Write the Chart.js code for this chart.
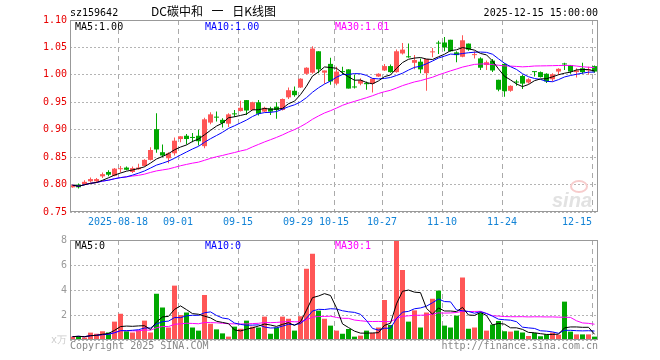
<!DOCTYPE html>
<html>
<head>
<meta charset="utf-8">
<script src="https://cdn.jsdelivr.net/npm/chart.js@4.4.0/dist/chart.umd.min.js"></script>
<style>
  body { margin: 0; background: #fff; }
  #wrap { position: relative; width: 660px; height: 360px; overflow: hidden;
          font-family: 'DejaVu Sans Mono', monospace; font-size: 10px; }
  canvas { position: absolute; left: 0; }
  .t { position: absolute; white-space: nowrap; line-height: 12px; }
</style>
</head>
<body>
<div id="wrap">
  <canvas id="kline" width="660" height="230" style="top:0;width:660px;height:230px"></canvas>
  <canvas id="vol" width="660" height="130" style="top:230px;width:660px;height:130px"></canvas>
  <div class="t" style="left:70px;top:7px;">sz159642</div>
  <div class="t" style="left:151px;top:5px;font-family:'Noto Sans CJK SC';font-size:12px;word-spacing:6px;">DC碳中和 一 日K线图</div>
  <div class="t" style="right:62px;top:7px;">2025-12-15 15:00:00</div>
  <div class="t" style="left:552px;top:189px;font:italic bold 20px 'Liberation Sans';color:#e2e2e2;">sina</div>
  <div class="t" style="left:570px;top:180px;width:14px;height:9px;border:2px solid #f7cccc;border-radius:50%;"></div>
  <div class="t" style="left:70px;top:340px;color:#888;">Copyright 2025 SINA.COM</div>
  <div class="t" style="right:62px;top:340px;color:#888;">http://finance.sina.com.cn</div>
</div>
<script>
// daily candles, 2025-08-06 .. 2025-12-15
const open = [0.795,0.800,0.801,0.806,0.806,0.815,0.823,0.816,0.828,0.831,
  0.823,0.828,0.834,0.845,0.901,0.859,0.848,0.857,0.883,0.889,
  0.886,0.889,0.870,0.913,0.923,0.918,0.911,0.929,0.934,0.954,
  0.936,0.950,0.933,0.939,0.942,0.936,0.959,0.971,0.977,1.002,
  1.004,1.043,1.004,1.020,0.984,1.006,1.010,0.978,0.984,0.985,
  0.984,0.997,1.008,1.016,1.005,1.039,1.033,1.022,1.024,1.003,
  1.041,1.058,1.059,1.064,1.041,1.033,1.057,1.036,1.030,1.018,
  1.026,0.991,1.020,0.971,0.987,0.998,0.986,1.006,1.005,1.002,
  0.992,1.006,1.020,1.018,1.005,1.012,1.008,1.016];
const high = [0.800,0.802,0.808,0.813,0.812,0.822,0.826,0.830,0.834,0.833,
  0.833,0.838,0.846,0.868,0.930,0.873,0.859,0.886,0.888,0.892,
  0.894,0.900,0.922,0.932,0.933,0.921,0.930,0.936,0.953,0.954,
  0.951,0.954,0.942,0.942,0.950,0.957,0.977,0.979,0.994,1.014,
  1.052,1.043,1.008,1.031,1.015,1.015,1.010,1.000,0.994,0.988,
  0.994,1.003,1.020,1.019,1.046,1.058,1.057,1.036,1.030,1.029,
  1.049,1.062,1.069,1.064,1.043,1.072,1.057,1.043,1.032,1.026,
  1.029,0.991,1.021,0.981,0.991,1.000,0.994,1.006,1.006,1.003,
  1.003,1.012,1.022,1.018,1.012,1.022,1.015,1.017];
const low = [0.794,0.793,0.800,0.804,0.803,0.812,0.815,0.815,0.822,0.826,
  0.821,0.827,0.833,0.844,0.858,0.850,0.839,0.853,0.877,0.873,
  0.877,0.871,0.866,0.910,0.915,0.904,0.905,0.923,0.933,0.927,
  0.935,0.926,0.932,0.927,0.920,0.935,0.956,0.960,0.976,1.000,
  1.002,1.003,0.984,0.982,0.981,1.000,0.975,0.975,0.981,0.973,
  0.968,0.996,1.007,1.004,1.004,1.037,1.031,1.010,1.003,0.971,
  1.032,1.038,1.043,1.042,1.023,1.032,1.044,1.030,1.009,1.009,
  1.005,0.970,0.960,0.969,0.980,0.974,0.984,0.997,0.995,0.985,
  0.988,1.000,1.009,1.002,0.995,1.002,1.000,1.004];
const close = [0.799,0.795,0.805,0.810,0.810,0.819,0.818,0.829,0.829,0.827,
  0.830,0.831,0.845,0.863,0.864,0.853,0.857,0.880,0.888,0.883,
  0.885,0.879,0.919,0.928,0.922,0.912,0.928,0.928,0.940,0.935,
  0.950,0.929,0.940,0.933,0.936,0.956,0.972,0.963,0.993,1.013,
  1.048,1.010,1.008,0.988,1.006,1.005,0.975,0.977,0.990,0.983,
  0.993,1.002,1.016,1.005,1.043,1.046,1.032,1.027,1.010,1.029,
  1.042,1.057,1.050,1.043,1.036,1.063,1.046,1.037,1.013,1.023,
  1.008,0.973,0.970,0.980,0.986,0.984,0.992,1.005,0.996,0.988,
  1.001,1.011,1.019,1.006,1.008,1.005,1.010,1.006];
const volume = [0.27,0.32,0.20,0.59,0.50,0.70,0.60,1.47,2.10,0.70,
  0.60,0.77,1.55,0.60,3.70,2.60,1.00,4.35,2.00,2.20,
  1.00,0.75,3.60,1.30,0.85,0.53,0.27,1.07,0.90,1.55,
  1.07,1.00,1.87,0.50,1.00,1.87,1.70,0.75,1.90,5.70,
  6.90,2.35,1.70,1.15,0.75,0.50,0.88,0.27,0.35,0.75,
  0.56,1.00,3.20,1.20,8.50,5.60,1.47,2.37,1.00,2.20,
  3.30,3.95,1.15,1.00,1.95,5.00,0.90,1.00,2.15,0.75,
  1.23,1.52,0.70,0.67,0.75,0.60,0.32,0.56,0.30,0.45,
  0.60,0.43,3.07,0.67,0.45,0.45,0.45,0.27];

// x axis: day index of each labelled gridline
const tickIdx = [0, 8, 18, 28, 38, 44, 52, 62, 72, 87];
const tickText = ['', '2025-08-18', '09-01', '09-15', '09-29', '10-15', '10-27', '11-10', '11-24', '12-15'];
const priceTicks = [0.75, 0.80, 0.85, 0.90, 0.95, 1.00, 1.05, 1.10];
const priceTickText = ['0.75', '0.80', '0.85', '0.90', '0.95', '1.00', '1.05', '1.10'];
const volTicks = [0, 2, 4, 6, 8];
const volTickText = ['x万', '2', '4', '6', '8'];

const maNames = ['MA5', 'MA10', 'MA30'];
const maLens = [5, 10, 30];
const maColors = ['#000000', '#0000ff', '#ff00ff'];
const priceMaText = ['1.00', '1.00', '1.01'];
const volMaText = ['0', '0', '1'];

const RED = '#ff5656';
const GREEN = '#00a800';
const OFF = 2.5 / 6;   // candle centre inside its day slot

Chart.defaults.font.family = "'DejaVu Sans Mono', monospace";
Chart.defaults.font.size = 10;
Chart.defaults.animation = false;

function movingAvg(arr, n) {
  return arr.map((_, i) => {
    const s = arr.slice(Math.max(0, i - n + 1), i + 1);
    return s.reduce((a, b) => a + b, 0) / s.length;
  });
}

const xs = close.map((_, i) => i + OFF);
const colors = close.map((c, i) => c >= open[i] ? RED : GREEN);

// plot frame
const frame = {
  id: 'frame',
  afterDatasetsDraw(chart) {
    const { ctx, chartArea: a } = chart;
    ctx.save();
    ctx.strokeStyle = '#999';
    ctx.lineWidth = 1;
    ctx.strokeRect(a.left + 0.5, a.top + 0.5, a.right - a.left - 1, a.bottom - a.top - 1);
    ctx.restore();
  }
};

function maLines(src) {
  return maLens.map((n, k) => ({
    type: 'line',
    data: movingAvg(src, n).map((y, i) => ({ x: xs[i], y })),
    borderColor: maColors[k],
    borderWidth: 1,
    pointRadius: 0,
    tension: 0,
    order: 0
  }));
}

function xScale(showLabels) {
  return {
    type: 'linear',
    min: 0,
    max: 88,
    offset: false,
    afterBuildTicks: s => { s.ticks = tickIdx.map(v => ({ value: v })); },
    afterFit: s => { s.height = showLabels ? 18 : 20; },
    grid: { color: '#aaa', drawTicks: false, offset: false },
    border: { display: false, dash: [5, 4] },
    ticks: {
      display: showLabels,
      autoSkip: false,
      maxRotation: 0,
      align: 'inner',
      padding: 4,
      color: '#1283d6',
      callback: (v, i) => tickText[i]
    }
  };
}

const bodyOpts = { barThickness: 5, maxBarThickness: 5, grouped: false, inflateAmount: 0, borderWidth: 0 };

new Chart(document.getElementById('kline'), {
  type: 'bar',
  data: {
    datasets: [
      ...maLines(close),
      Object.assign({
        data: open.map((o, i) => ({ x: xs[i], y: [o, close[i]] })),
        backgroundColor: colors,
        minBarLength: 1,
        order: 1
      }, bodyOpts),
      Object.assign({}, bodyOpts, {
        data: low.map((l, i) => ({ x: xs[i], y: [l, high[i]] })),
        backgroundColor: colors,
        barThickness: 1,
        maxBarThickness: 1,
        order: 2
      })
    ]
  },
  options: {
    responsive: false,
    events: [],
    layout: { padding: { left: 0, right: 62, top: 20, bottom: 0 } },
    plugins: { legend: { display: false }, tooltip: { enabled: false } },
    scales: {
      x: xScale(true),
      y: {
        min: 0.75,
        max: 1.10,
        afterBuildTicks: s => { s.ticks = priceTicks.map(v => ({ value: v })); },
        afterFit: s => { s.width = 70; },
        grid: { color: '#b4b4b4', drawTicks: false },
        border: { display: false, dash: [2, 2] },
        ticks: { color: '#e80000', padding: 3, callback: (v, i) => priceTickText[i] }
      }
    }
  },
  plugins: [frame]
});

new Chart(document.getElementById('vol'), {
  type: 'bar',
  data: {
    datasets: [
      ...maLines(volume),
      Object.assign({
        data: volume.map((v, i) => ({ x: xs[i], y: v })),
        backgroundColor: colors,
        order: 1
      }, bodyOpts)
    ]
  },
  options: {
    responsive: false,
    events: [],
    layout: { padding: { left: 0, right: 62, top: 10, bottom: 0 } },
    plugins: { legend: { display: false }, tooltip: { enabled: false } },
    scales: {
      x: xScale(false),
      y: {
        min: 0,
        max: 8,
        afterBuildTicks: s => { s.ticks = volTicks.map(v => ({ value: v })); },
        afterFit: s => { s.width = 70; },
        grid: { color: '#b4b4b4', drawTicks: false },
        border: { display: false, dash: [2, 2] },
        ticks: {
          padding: 3,
          color: c => c.index === 0 ? '#ccc' : '#999',
          callback: (v, i) => volTickText[i]
        }
      }
    }
  },
  plugins: [frame]
});

// MA legends inside both panels
const wrap = document.getElementById('wrap');
const legendX = [75, 205, 335];
function addLegend(top, values) {
  maNames.forEach((name, k) => {
    const d = document.createElement('div');
    d.className = 't';
    d.style.left = legendX[k] + 'px';
    d.style.top = top + 'px';
    d.style.color = maColors[k];
    d.textContent = name + ':' + values[k];
    wrap.appendChild(d);
  });
}
addLegend(21, priceMaText);
addLegend(240, volMaText);
</script>
</body>
</html>
